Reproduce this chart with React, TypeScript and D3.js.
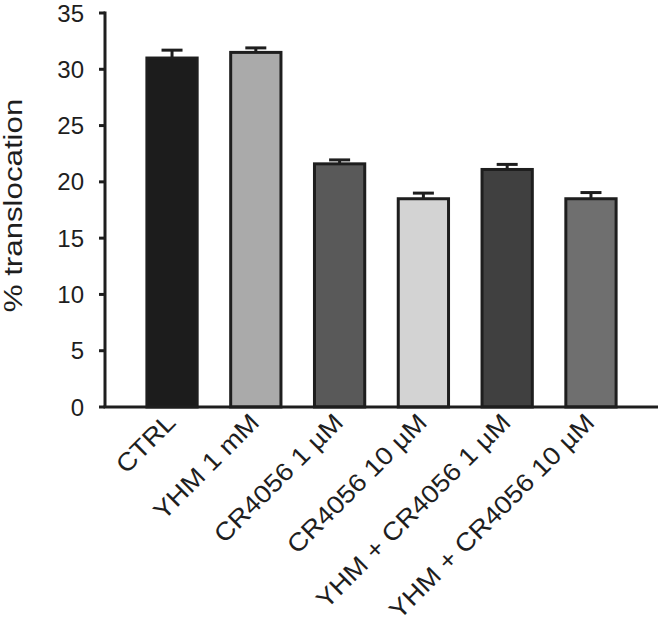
import React from "react";
import * as d3 from "d3";

const categories = [
  "CTRL",
  "YHM 1 mM",
  "CR4056 1 \u00b5M",
  "CR4056 10 \u00b5M",
  "YHM + CR4056 1 \u00b5M",
  "YHM + CR4056 10 \u00b5M",
];
const values = [31.0, 31.5, 21.6, 18.5, 21.1, 18.5];
const errors = [0.7, 0.4, 0.35, 0.5, 0.45, 0.55];
const fills = ["#1c1c1c", "#aaaaaa", "#595959", "#d3d3d3", "#404040", "#6f6f6f"];
const yTicks = [0, 5, 10, 15, 20, 25, 30, 35];

const W = 661;
const H = 620;
const left = 105;
const right = 658;
const top = 13;
const bottom = 407;
const ink = "#1e1e1e";
const font = "'Liberation Sans', Arial, sans-serif";

const App = () => {
  const x = d3
    .scaleBand()
    .domain(categories)
    .range([left, right])
    .paddingInner(0.4)
    .paddingOuter(0.5);

  const y = d3.scaleLinear().domain([0, 35]).range([bottom, top]);

  return (
    <svg
      width={W}
      height={H}
      style={{ position: "absolute", left: 0, top: 0, background: "#fff" }}
    >
      {/* bars + error bars */}
      {categories.map((c, i) => {
        const cx = x(c) + x.bandwidth() / 2;
        return (
          <g key={c}>
            <line
              x1={cx}
              x2={cx}
              y1={y(values[i])}
              y2={y(values[i] + errors[i])}
              stroke={ink}
              strokeWidth={3}
            />
            <line
              x1={cx - 10.5}
              x2={cx + 10.5}
              y1={y(values[i] + errors[i])}
              y2={y(values[i] + errors[i])}
              stroke={ink}
              strokeWidth={3}
            />
            <rect
              x={x(c)}
              y={y(values[i])}
              width={x.bandwidth()}
              height={y(0) - y(values[i])}
              fill={fills[i]}
              stroke={ink}
              strokeWidth={3}
            />
          </g>
        );
      })}

      {/* y axis */}
      <line x1={left} x2={left} y1={top - 1.5} y2={bottom} stroke={ink} strokeWidth={3} />
      {yTicks.map(t => (
        <g key={t}>
          <line x1={left - 6} x2={left} y1={y(t)} y2={y(t)} stroke={ink} strokeWidth={3} />
          <text
            x={84}
            y={y(t)}
            dy="0.36em"
            textAnchor="end"
            fontFamily={font}
            fontSize={24}
            fill={ink}
          >
            {t}
          </text>
        </g>
      ))}

      {/* x axis */}
      <line x1={left - 1.5} x2={right} y1={bottom} y2={bottom} stroke={ink} strokeWidth={3} />
      {categories.map(c => {
        const cx = x(c) + x.bandwidth() / 2;
        return (
          <text
            key={c}
            transform={`translate(${cx + 5},${bottom + 17}) rotate(-45) scale(1.1,1)`}
            textAnchor="end"
            fontFamily={font}
            fontSize={25}
            fill={ink}
          >
            {c}
          </text>
        );
      })}

      {/* y label */}
      <text
        transform={`translate(22,${(98 + 313) / 2}) rotate(-90) scale(1.25,1)`}
        textAnchor="middle"
        fontFamily={font}
        fontSize={25}
        fill={ink}
      >
        % translocation
      </text>
    </svg>
  );
};

export default App;
